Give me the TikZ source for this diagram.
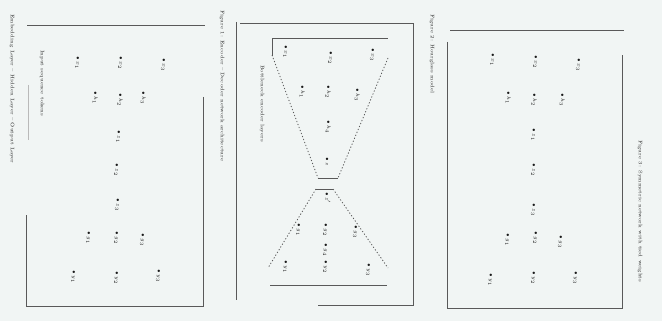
\documentclass[tikz,border=0pt]{standalone}
\definecolor{bgc}{RGB}{241,245,244}
\begin{document}
\begin{tikzpicture}[x=1pt,y=-1pt,
  frame/.style={draw=gray!70!black,line width=0.9pt},
  thinln/.style={draw=gray!55,line width=0.6pt},
  hg/.style={draw=gray!70!black,line width=0.8pt,dash pattern=on 1.2pt off 2pt},
  lbl/.style={font=\fontsize{5.5}{6}\selectfont,rotate=-90,text=gray!20!black,inner sep=0.5pt},
  captxt/.style={font=\fontsize{5}{6}\selectfont,rotate=-90,text=gray!30!black,inner sep=0pt,anchor=west}]
\fill[bgc] (0,0) rectangle (662,321);
\useasboundingbox (0,0) rectangle (662,321);
% ---------- left panel ----------
\draw[frame] (27,25) -- (205,25);
\draw[frame] (203,97) -- (203,306) -- (26,306) -- (26,215);
\draw[thinln] (28,85) -- (28,140);
\node[captxt] (capA) at (12,14) {Embedding Layer -- Hidden Layer -- Output Layer};
\node[captxt] (capB) at (42,50) {Input sequence tokens};
\node[captxt] (capC) at (222,10) {Figure 1: Encoder -- Decoder network architecture};
\foreach \n/\x/\y/\t in {a1/77/63/x_1,a2/120/63/x_2,a3/163/65/x_3,
  a4/95/98/h_1,a5/120/100/h_2,a6/143/98/h_3,a7/118/137/z_1,a8/116/170/z_2,a9/117/205/z_3,
  a10/88/238/g_1,a11/116/238/g_2,a12/142/240/g_3,a13/73/277/y_1,a14/116/278/y_2,a15/158/276/y_3}
  \node[lbl] (\n) at (\x,\y) {$\bullet\,\t$};
% ---------- middle panel ----------
\draw[frame] (236,22) -- (236,300);
\draw[frame] (240,23) -- (413,23) -- (413,305) -- (318,305);
\draw[frame] (272,56) -- (272,38) -- (388,38);
\draw[frame] (270,285) -- (387,285);
\coordinate (t1) at (272,55);
\coordinate (t2) at (388,58);
\coordinate (n1) at (318,178);
\coordinate (n2) at (338,178);
\coordinate (m1) at (316,189);
\coordinate (m2) at (333,189);
\coordinate (b1) at (268,268);
\coordinate (b2) at (388,268);
\draw[hg] (t1) -- (n1);
\draw[hg] (t2) -- (n2);
\draw[frame,line width=0.6pt] (n1) -- (n2);
\draw[frame,line width=0.7pt] (m1) -- (m2);
\draw[hg] (m1) -- (b1);
\draw[hg] (m2) -- (b2);
\node[captxt] (capD) at (262,65) {Bottleneck encoder layers};
\node[captxt] (capE) at (432,14) {Figure 2: Hourglass model};
\foreach \n/\x/\y/\t in {b1n/285/52/x_1,b2n/330/58/x_2,b3n/372/55/x_3,
  b4n/302/92/h_1,b5n/328/92/h_2,b6n/357/95/h_3,b7n/328/127/h_4,b8n/327/162/z,
  b9n/328/198/z',b10n/298/230/g_1,b11n/325/230/g_2,b12n/355/232/g_3,b13n/325/250/g_4,
  b14n/285/267/y_1,b15n/325/267/y_2,b16n/368/270/y_3}
  \node[lbl] (\n) at (\x,\y) {$\bullet\,\t$};
% ---------- right panel ----------
\draw[frame] (450,30) -- (624,30);
\draw[frame] (447,42) -- (447,308) -- (622,308) -- (622,55);
\node[captxt] (capF) at (640,140) {Figure 3: Symmetric network with tied weights};
\foreach \n/\x/\y/\t in {c1/492/60/x_1,c2/535/62/x_2,c3/578/65/x_3,
  c4/508/98/h_1,c5/534/100/h_2,c6/562/100/h_3,c7/533/135/z_1,c8/533/170/z_2,c9/533/210/z_3,
  c10/507/240/g_1,c11/535/238/g_2,c12/560/242/g_3,c13/490/280/y_1,c14/533/278/y_2,c15/575/278/y_3}
  \node[lbl] (\n) at (\x,\y) {$\bullet\,\t$};
\end{tikzpicture}
\end{document}
